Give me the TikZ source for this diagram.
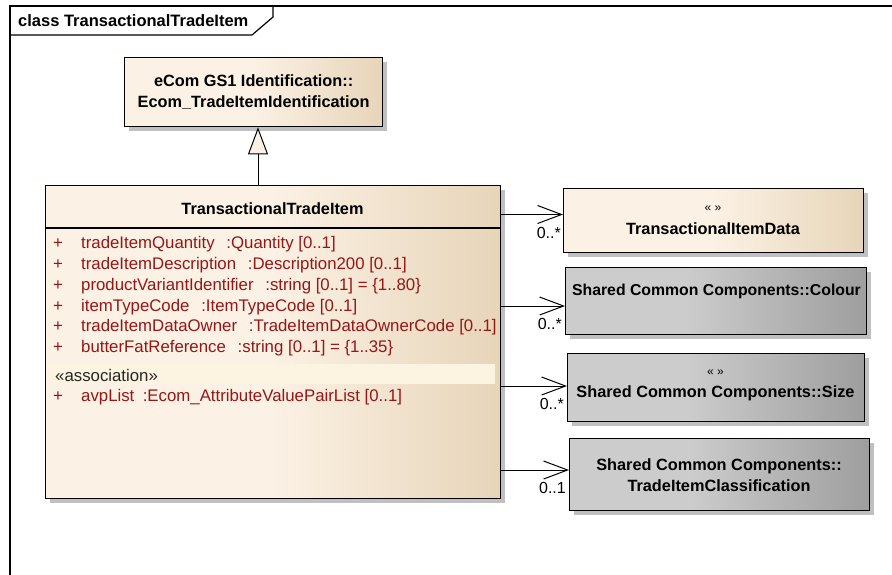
\documentclass[tikz,border=0pt]{standalone}
\usepackage{fontspec}
\setmainfont{Liberation Sans}
\usetikzlibrary{arrows.meta,shadows}
\definecolor{creamL}{RGB}{251,241,228}
\definecolor{creamR}{RGB}{231,213,185}
\definecolor{greyL}{RGB}{204,204,204}
\definecolor{greyR}{RGB}{158,158,158}
\definecolor{shadowc}{RGB}{192,192,192}
\definecolor{attr}{RGB}{150,22,22}
\definecolor{band}{RGB}{252,243,224}
\pgfdeclarehorizontalshading{creamshade}{100bp}{color(0bp)=(creamL); color(25bp)=(creamL); color(50bp)=(creamL); color(75bp)=(creamR); color(100bp)=(creamR)}
\pgfdeclarehorizontalshading{greyshade}{100bp}{color(0bp)=(greyL); color(25bp)=(greyL); color(45bp)=(greyL); color(75bp)=(greyR); color(100bp)=(greyR)}
\tikzset{
  umlbox/.style={draw, line width=1.3pt, inner sep=0pt, anchor=north west,
    drop shadow={shadow xshift=4.5pt, shadow yshift=-4.5pt, fill=shadowc, opacity=1}},
  creambox/.style={umlbox, shade, shading=creamshade},
  greybox/.style={umlbox, shade, shading=greyshade},
  boldtext/.style={font=\fontsize{16.3}{21}\selectfont\bfseries, align=center, inner sep=0pt},
  stereo/.style={font=\fontsize{12}{14}\selectfont, inner sep=0pt},
  attrtext/.style={font=\fontsize{16.8}{20}\selectfont, text=attr, anchor=west, inner sep=0pt},
  multtext/.style={font=\fontsize{16}{19}\selectfont, anchor=east, inner sep=0pt},
  assoc/.style={line width=1pt, -{Straight Barb[length=24pt, width=18pt, line width=1pt]}},
  gen/.style={line width=1pt, -{Triangle[open, length=27pt, width=20pt, fill=creamL, line width=1pt]}},
}
\begin{document}
\begin{tikzpicture}[x=1pt, y=-1pt]
\useasboundingbox (0,0) rectangle (892,574);
% frame
\coordinate (fTL) at (10,6);
\coordinate (fTR) at (893,6);
\coordinate (fBL) at (10,575);
\draw[line width=1.2pt] (fTR) -- (fTL) -- (fBL);
\draw[line width=1.2pt] (273,6) -- (273,17) -- (252,35) -- (10,35);
\node[font=\fontsize{16.5}{20}\selectfont\bfseries, anchor=west, inner sep=0pt] (tab) at (18,20.5) {class TransactionalTradeItem};

% parent class
\node[creambox, minimum width=258pt, minimum height=69pt] (parent) at (124,57) {};
\node[boldtext] (parentname) at (parent.center) {eCom GS1 Identification::\\Ecom\_TradeItemIdentification};

% main class
\node[creambox, minimum width=455pt, minimum height=313pt] (main) at (45,185) {};
\node[boldtext] (mainname) at (272.5,209) {TransactionalTradeItem};
\coordinate (sep) at (0,228);
\draw[line width=1.3pt] (main.west |- sep) -- (main.east |- sep);

\node[attrtext] (a1) at (53,244) {\makebox[28pt][l]{+}tradeItemQuantity\hspace{0.7em}:Quantity [0..1]};
\node[attrtext] (a2) at (53,265) {\makebox[28pt][l]{+}tradeItemDescription\hspace{0.7em}:Description200 [0..1]};
\node[attrtext] (a3) at (53,286) {\makebox[28pt][l]{+}productVariantIdentifier\hspace{0.7em}:string [0..1] = \{1..80\}};
\node[attrtext] (a4) at (53,307) {\makebox[28pt][l]{+}itemTypeCode\hspace{0.7em}:ItemTypeCode [0..1]};
\node[attrtext] (a5) at (53,327) {\makebox[28pt][l]{+}tradeItemDataOwner\hspace{0.7em}:TradeItemDataOwnerCode [0..1]};
\node[attrtext] (a6) at (53,348) {\makebox[28pt][l]{+}butterFatReference\hspace{0.7em}:string [0..1] = \{1..35\}};
\fill[band] (50,364) rectangle (495,384);
\node[attrtext, text=black!85] (assocl) at (55,375) {«association»};
\node[attrtext] (a7) at (53,397) {\makebox[28pt][l]{+}avpList\hspace{0.5em}:Ecom\_AttributeValuePairList [0..1]};

% generalization
\coordinate (gx) at (258,0);
\draw[gen] (main.north -| gx) -- (parent.south -| gx);

% associated classes
\node[creambox, minimum width=300pt, minimum height=64pt] (b1) at (563,188) {};
\node[stereo] (b1s) at (713,209) {« »};
\node[boldtext] (b1n) at (713,229) {TransactionalItemData};

\node[greybox, minimum width=301pt, minimum height=67pt] (b2) at (565,267) {};
\node[boldtext, font=\fontsize{15.8}{20}\selectfont\bfseries] (b2n) at (716.5,291) {Shared Common Components::Colour};

\node[greybox, minimum width=297pt, minimum height=68pt] (b3) at (567,353) {};
\node[stereo] (b3s) at (715.5,373) {« »};
\node[boldtext] (b3n) at (715.5,393) {Shared Common Components::Size};

\node[greybox, minimum width=300pt, minimum height=72pt] (b4) at (569,438) {};
\node[boldtext] (b4n) at (719,475.5) {Shared Common Components::\\TradeItemClassification};

% associations
\coordinate (y1) at (0,214.5);
\coordinate (y2) at (0,306);
\coordinate (y3) at (0,386);
\coordinate (y4) at (0,470);
\draw[assoc] (main.east |- y1) -- (b1.west |- y1);
\draw[assoc] (main.east |- y2) -- (b2.west |- y2);
\draw[assoc] (main.east |- y3) -- (b3.west |- y3);
\draw[assoc] (main.east |- y4) -- (b4.west |- y4);

\node[multtext] (m1) at (561,233) {0..*};
\node[multtext] (m2) at (562,324) {0..*};
\node[multtext] (m3) at (564,404) {0..*};
\node[multtext] (m4) at (566,488) {0..1};
\end{tikzpicture}
\end{document}
